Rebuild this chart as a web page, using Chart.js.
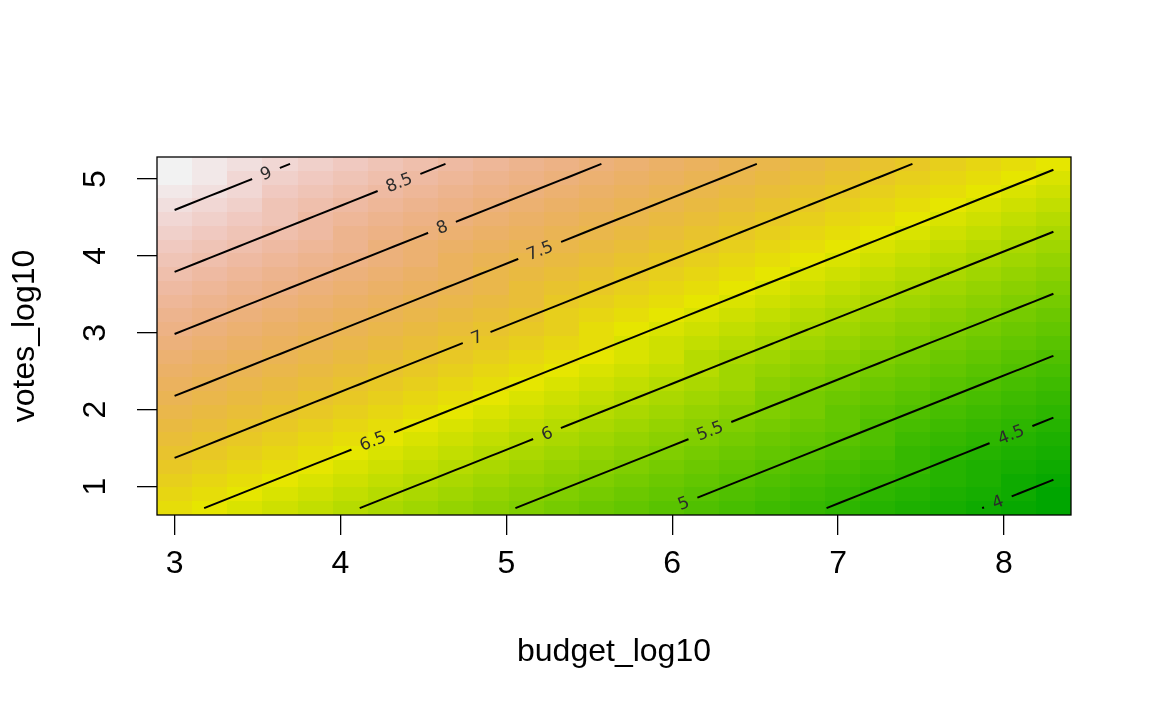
<!DOCTYPE html>
<html>
<head>
<meta charset="utf-8">
<script src="https://cdn.jsdelivr.net/npm/chart.js@4/dist/chart.umd.min.js"></script>
<style>
  html, body { margin: 0; padding: 0; background: #fff; }
</style>
</head>
<body>
<canvas id="chart" width="1152" height="711"></canvas>
<script>
// Grid of the fitted surface
const budgetGrid = [3.000, 3.212, 3.424, 3.636, 3.848, 4.060, 4.271, 4.483, 4.695, 4.907, 5.119, 5.331, 5.543,
  5.755, 5.967, 6.179, 6.390, 6.602, 6.814, 7.026, 7.238, 7.450, 7.662, 7.874, 8.086, 8.298];
const votesGrid = [0.720, 0.899, 1.078, 1.257, 1.436, 1.616, 1.795, 1.974, 2.153, 2.332, 2.511, 2.690, 2.869,
  3.048, 3.227, 3.407, 3.586, 3.765, 3.944, 4.123, 4.302, 4.481, 4.660, 4.839, 5.018, 5.198];

// Predicted values, one row per votesGrid value (bottom row first)
const fitRows = [
  [6.595, 6.482, 6.369, 6.256, 6.143, 6.030, 5.917, 5.804, 5.691, 5.578, 5.466, 5.353, 5.240, 5.127, 5.014, 4.901, 4.788, 4.675, 4.562, 4.449, 4.336, 4.223, 4.110, 3.997, 3.884, 3.771],
  [6.706, 6.593, 6.480, 6.367, 6.254, 6.141, 6.028, 5.915, 5.802, 5.690, 5.577, 5.464, 5.351, 5.238, 5.125, 5.012, 4.899, 4.786, 4.673, 4.560, 4.447, 4.334, 4.221, 4.108, 3.995, 3.882],
  [6.817, 6.704, 6.591, 6.478, 6.365, 6.252, 6.139, 6.027, 5.914, 5.801, 5.688, 5.575, 5.462, 5.349, 5.236, 5.123, 5.010, 4.897, 4.784, 4.671, 4.558, 4.445, 4.332, 4.219, 4.106, 3.993],
  [6.928, 6.815, 6.702, 6.589, 6.476, 6.363, 6.250, 6.138, 6.025, 5.912, 5.799, 5.686, 5.573, 5.460, 5.347, 5.234, 5.121, 5.008, 4.895, 4.782, 4.669, 4.556, 4.443, 4.330, 4.217, 4.104],
  [7.039, 6.926, 6.813, 6.700, 6.588, 6.475, 6.362, 6.249, 6.136, 6.023, 5.910, 5.797, 5.684, 5.571, 5.458, 5.345, 5.232, 5.119, 5.006, 4.893, 4.780, 4.667, 4.554, 4.441, 4.328, 4.215],
  [7.150, 7.037, 6.924, 6.811, 6.699, 6.586, 6.473, 6.360, 6.247, 6.134, 6.021, 5.908, 5.795, 5.682, 5.569, 5.456, 5.343, 5.230, 5.117, 5.004, 4.891, 4.778, 4.665, 4.552, 4.439, 4.326],
  [7.261, 7.148, 7.035, 6.922, 6.810, 6.697, 6.584, 6.471, 6.358, 6.245, 6.132, 6.019, 5.906, 5.793, 5.680, 5.567, 5.454, 5.341, 5.228, 5.115, 5.002, 4.889, 4.776, 4.663, 4.550, 4.437],
  [7.372, 7.259, 7.147, 7.034, 6.921, 6.808, 6.695, 6.582, 6.469, 6.356, 6.243, 6.130, 6.017, 5.904, 5.791, 5.678, 5.565, 5.452, 5.339, 5.226, 5.113, 5.000, 4.887, 4.774, 4.661, 4.548],
  [7.483, 7.370, 7.258, 7.145, 7.032, 6.919, 6.806, 6.693, 6.580, 6.467, 6.354, 6.241, 6.128, 6.015, 5.902, 5.789, 5.676, 5.563, 5.450, 5.337, 5.224, 5.111, 4.998, 4.885, 4.772, 4.659],
  [7.595, 7.482, 7.369, 7.256, 7.143, 7.030, 6.917, 6.804, 6.691, 6.578, 6.465, 6.352, 6.239, 6.126, 6.013, 5.900, 5.787, 5.674, 5.561, 5.448, 5.335, 5.222, 5.109, 4.996, 4.884, 4.771],
  [7.706, 7.593, 7.480, 7.367, 7.254, 7.141, 7.028, 6.915, 6.802, 6.689, 6.576, 6.463, 6.350, 6.237, 6.124, 6.011, 5.898, 5.785, 5.672, 5.559, 5.446, 5.333, 5.220, 5.107, 4.995, 4.882],
  [7.817, 7.704, 7.591, 7.478, 7.365, 7.252, 7.139, 7.026, 6.913, 6.800, 6.687, 6.574, 6.461, 6.348, 6.235, 6.122, 6.009, 5.896, 5.783, 5.670, 5.557, 5.444, 5.331, 5.218, 5.106, 4.993],
  [7.928, 7.815, 7.702, 7.589, 7.476, 7.363, 7.250, 7.137, 7.024, 6.911, 6.798, 6.685, 6.572, 6.459, 6.346, 6.233, 6.120, 6.007, 5.894, 5.781, 5.668, 5.555, 5.443, 5.330, 5.217, 5.104],
  [8.039, 7.926, 7.813, 7.700, 7.587, 7.474, 7.361, 7.248, 7.135, 7.022, 6.909, 6.796, 6.683, 6.570, 6.457, 6.344, 6.231, 6.118, 6.005, 5.892, 5.779, 5.666, 5.554, 5.441, 5.328, 5.215],
  [8.150, 8.037, 7.924, 7.811, 7.698, 7.585, 7.472, 7.359, 7.246, 7.133, 7.020, 6.907, 6.794, 6.681, 6.568, 6.455, 6.342, 6.229, 6.116, 6.004, 5.891, 5.778, 5.665, 5.552, 5.439, 5.326],
  [8.261, 8.148, 8.035, 7.922, 7.809, 7.696, 7.583, 7.470, 7.357, 7.244, 7.131, 7.018, 6.905, 6.792, 6.679, 6.566, 6.453, 6.340, 6.227, 6.115, 6.002, 5.889, 5.776, 5.663, 5.550, 5.437],
  [8.372, 8.259, 8.146, 8.033, 7.920, 7.807, 7.694, 7.581, 7.468, 7.355, 7.242, 7.129, 7.016, 6.903, 6.790, 6.677, 6.564, 6.451, 6.338, 6.226, 6.113, 6.000, 5.887, 5.774, 5.661, 5.548],
  [8.483, 8.370, 8.257, 8.144, 8.031, 7.918, 7.805, 7.692, 7.579, 7.466, 7.353, 7.240, 7.127, 7.014, 6.901, 6.788, 6.675, 6.563, 6.450, 6.337, 6.224, 6.111, 5.998, 5.885, 5.772, 5.659],
  [8.594, 8.481, 8.368, 8.255, 8.142, 8.029, 7.916, 7.803, 7.690, 7.577, 7.464, 7.351, 7.238, 7.125, 7.012, 6.899, 6.786, 6.674, 6.561, 6.448, 6.335, 6.222, 6.109, 5.996, 5.883, 5.770],
  [8.705, 8.592, 8.479, 8.366, 8.253, 8.140, 8.027, 7.914, 7.801, 7.688, 7.575, 7.462, 7.349, 7.236, 7.124, 7.011, 6.898, 6.785, 6.672, 6.559, 6.446, 6.333, 6.220, 6.107, 5.994, 5.881],
  [8.816, 8.703, 8.590, 8.477, 8.364, 8.251, 8.138, 8.025, 7.912, 7.799, 7.686, 7.573, 7.460, 7.347, 7.235, 7.122, 7.009, 6.896, 6.783, 6.670, 6.557, 6.444, 6.331, 6.218, 6.105, 5.992],
  [8.927, 8.814, 8.701, 8.588, 8.475, 8.362, 8.249, 8.136, 8.023, 7.910, 7.797, 7.684, 7.571, 7.458, 7.346, 7.233, 7.120, 7.007, 6.894, 6.781, 6.668, 6.555, 6.442, 6.329, 6.216, 6.103],
  [9.038, 8.925, 8.812, 8.699, 8.586, 8.473, 8.360, 8.247, 8.134, 8.021, 7.908, 7.795, 7.683, 7.570, 7.457, 7.344, 7.231, 7.118, 7.005, 6.892, 6.779, 6.666, 6.553, 6.440, 6.327, 6.214],
  [9.149, 9.036, 8.923, 8.810, 8.697, 8.584, 8.471, 8.358, 8.245, 8.132, 8.019, 7.906, 7.794, 7.681, 7.568, 7.455, 7.342, 7.229, 7.116, 7.003, 6.890, 6.777, 6.664, 6.551, 6.438, 6.325],
  [9.260, 9.147, 9.034, 8.921, 8.808, 8.695, 8.582, 8.469, 8.356, 8.244, 8.131, 8.018, 7.905, 7.792, 7.679, 7.566, 7.453, 7.340, 7.227, 7.114, 7.001, 6.888, 6.775, 6.662, 6.549, 6.436],
  [9.371, 9.258, 9.145, 9.032, 8.919, 8.806, 8.693, 8.580, 8.467, 8.355, 8.242, 8.129, 8.016, 7.903, 7.790, 7.677, 7.564, 7.451, 7.338, 7.225, 7.112, 6.999, 6.886, 6.773, 6.660, 6.547]
];

const contourLevels = [4, 4.5, 5, 5.5, 6, 6.5, 7, 7.5, 8, 8.5, 9];
// budget_log10 value where each contour carries its label
const labelAt = [7.963, 8.042, 6.068, 6.227, 5.245, 4.195, 4.821, 5.201, 4.612, 4.353, 3.551];
const xTicks = [3, 4, 5, 6, 7, 8];
const yTicks = [1, 2, 3, 4, 5];

const AXIS_FONT = '"Liberation Sans", Arial, sans-serif';
const LABEL_FONT = '17px "DejaVu Sans", sans-serif';
const N_COLORS = 50;

// R's hsv() and terrain.colors()
function hsv(h, s, v) {
  const h6 = h * 6;
  const i = Math.floor(h6) % 6, f = h6 - Math.floor(h6);
  const p = v * (1 - s), q = v * (1 - f * s), t = v * (1 - (1 - f) * s);
  const [r, g, b] = [[v, t, p], [q, v, p], [p, v, t], [p, q, v], [t, p, v], [v, p, q]][i];
  return `rgb(${Math.round(r * 255)},${Math.round(g * 255)},${Math.round(b * 255)})`;
}

function terrainColors(n) {
  const k = Math.floor(n / 2), out = [];
  for (let i = 0; i < k; i++) {
    const t = i / (k - 1);
    out.push(hsv(1 / 3 + (1 / 6 - 1 / 3) * t, 1, 0.65 + 0.25 * t));
  }
  const m = n - k + 1;
  for (let i = 1; i < m; i++) {
    const t = i / (m - 1);
    out.push(hsv((1 / 6) * (1 - t), 1 - t, 0.9 + 0.05 * t));
  }
  return out;
}

const palette = terrainColors(N_COLORS);
const allFit = fitRows.flat();
const zMin = Math.min(...allFit), zMax = Math.max(...allFit);

function colorFor(z) {
  const idx = Math.min(N_COLORS - 1, Math.floor((z - zMin) / (zMax - zMin) * N_COLORS));
  return palette[Math.max(0, idx)];
}

// Collect where a level crosses the grid edges, ordered along budget
function traceContour(level) {
  const pts = [];
  for (let j = 0; j < votesGrid.length; j++) {
    for (let k = 0; k < budgetGrid.length - 1; k++) {
      const a = fitRows[j][k], b = fitRows[j][k + 1];
      if ((a < level) !== (b < level)) {
        const t = (level - a) / (b - a);
        pts.push({ x: budgetGrid[k] + t * (budgetGrid[k + 1] - budgetGrid[k]), y: votesGrid[j] });
      }
    }
  }
  for (let k = 0; k < budgetGrid.length; k++) {
    for (let j = 0; j < votesGrid.length - 1; j++) {
      const a = fitRows[j][k], b = fitRows[j + 1][k];
      if ((a < level) !== (b < level)) {
        const t = (level - a) / (b - a);
        pts.push({ x: budgetGrid[k], y: votesGrid[j] + t * (votesGrid[j + 1] - votesGrid[j]) });
      }
    }
  }
  pts.sort((p, q) => p.x - q.x);
  return pts;
}

function yAt(pts, x) {
  for (let i = 1; i < pts.length; i++) {
    if (pts[i].x >= x) {
      const p = pts[i - 1], q = pts[i];
      const t = q.x === p.x ? 0 : (x - p.x) / (q.x - p.x);
      return p.y + t * (q.y - p.y);
    }
  }
  return pts[pts.length - 1].y;
}

const contours = contourLevels.map(traceContour);

const xStep = budgetGrid[1] - budgetGrid[0];
const yStep = votesGrid[1] - votesGrid[0];

// label boxes in pixels, filled in before the lines are drawn
let labelBoxes = [];

const surfacePlugin = {
  id: 'surface',
  beforeDatasetsDraw(chart) {
    const ctx = chart.ctx;
    const xs = chart.scales.x, ys = chart.scales.y;

    // image cells
    const xEdge = budgetGrid.map((v, k) => k === 0 ? v - xStep / 2 : (budgetGrid[k - 1] + v) / 2);
    xEdge.push(budgetGrid[budgetGrid.length - 1] + xStep / 2);
    const yEdge = votesGrid.map((v, j) => j === 0 ? v - yStep / 2 : (votesGrid[j - 1] + v) / 2);
    yEdge.push(votesGrid[votesGrid.length - 1] + yStep / 2);
    ctx.save();
    for (let j = 0; j < votesGrid.length; j++) {
      const y0 = Math.round(ys.getPixelForValue(yEdge[j + 1]));
      const y1 = Math.round(ys.getPixelForValue(yEdge[j]));
      for (let k = 0; k < budgetGrid.length; k++) {
        const x0 = Math.round(xs.getPixelForValue(xEdge[k]));
        const x1 = Math.round(xs.getPixelForValue(xEdge[k + 1]));
        ctx.fillStyle = colorFor(fitRows[j][k]);
        ctx.fillRect(x0, y0, x1 - x0, y1 - y0);
      }
    }
    ctx.restore();

    // gaps in the contour lines where labels go
    ctx.font = LABEL_FONT;
    labelBoxes = contours.map((pts, i) => {
      const lx = labelAt[i], ly = yAt(pts, lx);
      const first = pts[0], last = pts[pts.length - 1];
      const ang = Math.atan2(
        ys.getPixelForValue(last.y) - ys.getPixelForValue(first.y),
        xs.getPixelForValue(last.x) - xs.getPixelForValue(first.x));
      const text = String(contourLevels[i]);
      return {
        text, ang,
        cx: xs.getPixelForValue(lx), cy: ys.getPixelForValue(ly),
        hl: ctx.measureText(text).width / 2 + 9.5, hh: 10
      };
    });
    ctx.save();
    ctx.beginPath();
    ctx.rect(0, 0, chart.width, chart.height);
    labelBoxes.forEach(b => {
      const ux = Math.cos(b.ang), uy = Math.sin(b.ang);
      const nx = -uy, ny = ux;
      ctx.moveTo(b.cx - ux * b.hl - nx * b.hh, b.cy - uy * b.hl - ny * b.hh);
      ctx.lineTo(b.cx + ux * b.hl - nx * b.hh, b.cy + uy * b.hl - ny * b.hh);
      ctx.lineTo(b.cx + ux * b.hl + nx * b.hh, b.cy + uy * b.hl + ny * b.hh);
      ctx.lineTo(b.cx - ux * b.hl + nx * b.hh, b.cy - uy * b.hl + ny * b.hh);
      ctx.closePath();
    });
    ctx.clip('evenodd');
  },
  afterDatasetsDraw(chart) {
    const ctx = chart.ctx;
    ctx.restore();

    // contour labels
    ctx.save();
    ctx.fillStyle = '#2b2b2b';
    ctx.font = LABEL_FONT;
    ctx.textAlign = 'center';
    ctx.textBaseline = 'middle';
    labelBoxes.forEach(b => {
      ctx.save();
      ctx.translate(b.cx, b.cy);
      ctx.rotate(b.ang);
      ctx.fillText(b.text, 0, 1);
      ctx.restore();
    });
    ctx.restore();
  },
  afterDraw(chart) {
    const ctx = chart.ctx;
    const area = chart.chartArea;
    const ys = chart.scales.y;

    // y tick labels, written along the axis like R does
    ctx.save();
    ctx.fillStyle = '#000';
    ctx.font = '32px ' + AXIS_FONT;
    ctx.textAlign = 'center';
    ctx.textBaseline = 'middle';
    yTicks.forEach(v => {
      ctx.save();
      ctx.translate(96, ys.getPixelForValue(v));
      ctx.rotate(-Math.PI / 2);
      ctx.fillText(String(v), 0, 0);
      ctx.restore();
    });

    // plot box
    ctx.strokeStyle = '#000';
    ctx.lineWidth = 1.3;
    ctx.strokeRect(area.left, area.top, area.right - area.left, area.bottom - area.top);
    ctx.restore();
  }
};

const datasets = contours.map(pts => ({
  data: pts,
  showLine: true,
  borderColor: '#000',
  borderWidth: 2,
  pointRadius: 0,
  fill: false
}));

const ctx = document.getElementById('chart').getContext('2d');

const surfaceChart = new Chart(ctx, {
  type: 'scatter',
  data: { datasets },
  options: {
    responsive: false,
    animation: false,
    devicePixelRatio: 1,
    events: [],
    layout: { padding: { top: 157, right: 81, left: 0, bottom: 0 } },
    scales: {
      x: {
        type: 'linear',
        min: budgetGrid[0] - xStep / 2,
        max: budgetGrid[budgetGrid.length - 1] + xStep / 2,
        afterBuildTicks: s => { s.ticks = xTicks.map(v => ({ value: v })); },
        afterFit: s => { s.height = 196; },
        grid: { drawOnChartArea: false, drawTicks: true, tickLength: 20, tickColor: '#000', lineWidth: 1.3 },
        border: { display: false },
        ticks: {
          color: '#000',
          font: { family: AXIS_FONT, size: 32 },
          padding: 10,
          maxRotation: 0,
          callback: v => String(v)
        },
        title: {
          display: true,
          text: 'budget_log10',
          color: '#000',
          font: { family: AXIS_FONT, size: 32 },
          padding: { top: 0, bottom: 40 }
        }
      },
      y: {
        type: 'linear',
        min: votesGrid[0] - yStep / 2,
        max: votesGrid[votesGrid.length - 1] + yStep / 2,
        afterBuildTicks: s => { s.ticks = yTicks.map(v => ({ value: v })); },
        afterFit: s => { s.width = 157; },
        grid: { drawOnChartArea: false, drawTicks: true, tickLength: 20, tickColor: '#000', lineWidth: 1.3 },
        border: { display: false },
        ticks: { display: false },
        title: {
          display: true,
          text: 'votes_log10',
          color: '#000',
          font: { family: AXIS_FONT, size: 32 },
          padding: { top: 6, bottom: 0 }
        }
      }
    },
    plugins: {
      legend: { display: false },
      tooltip: { enabled: false }
    }
  },
  plugins: [surfacePlugin]
});
</script>
</body>
</html>
